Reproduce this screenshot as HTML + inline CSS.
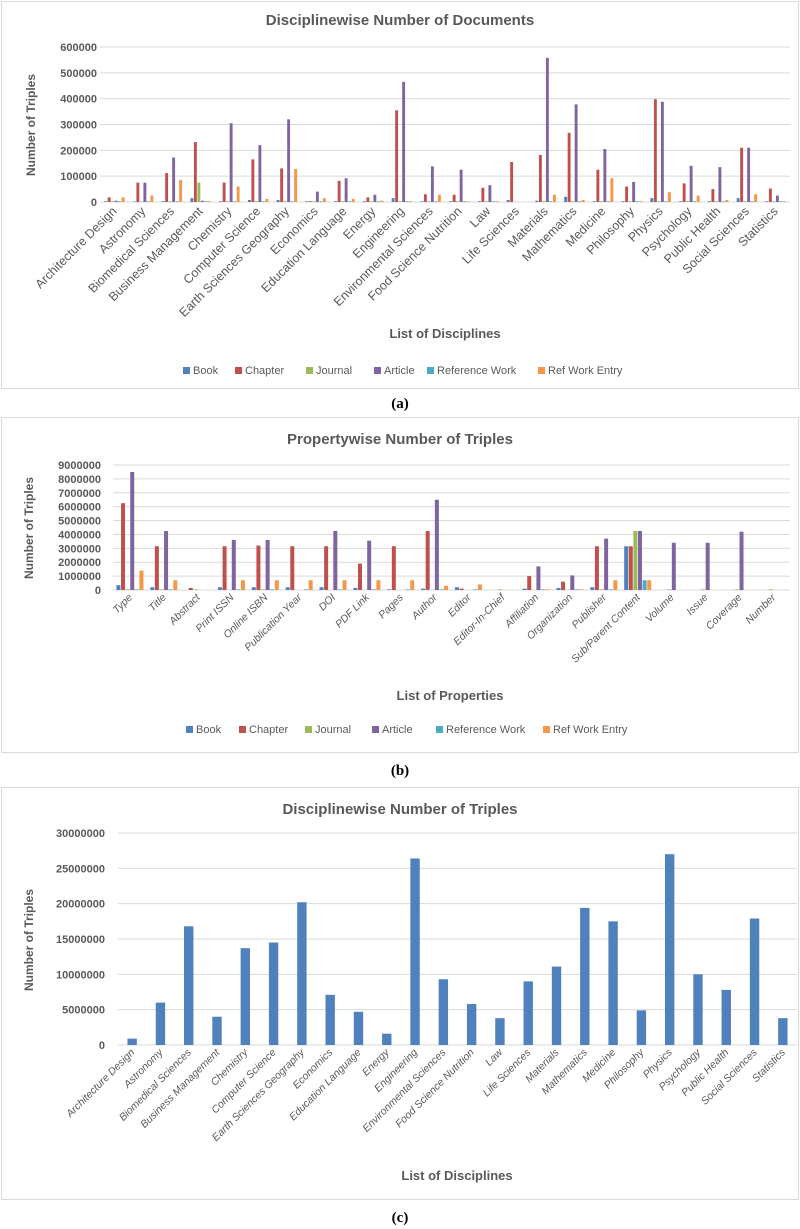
<!DOCTYPE html>
<html><head><meta charset="utf-8"><style>
html,body{margin:0;padding:0;background:#fff;}
svg{display:block;font-family:"Liberation Sans",sans-serif;}
</style></head><body>
<svg id="fig" width="800" height="1229" viewBox="0 0 800 1229" xmlns="http://www.w3.org/2000/svg">
<rect x="1.5" y="1.5" width="797" height="387" fill="#fff" stroke="#d9d9d9"/>
<rect x="1.5" y="417.5" width="797" height="335" fill="#fff" stroke="#d9d9d9"/>
<rect x="1.5" y="787.5" width="797" height="412" fill="#fff" stroke="#d9d9d9"/>
<text x="400" y="25" text-anchor="middle" font-size="15" font-weight="bold" fill="#595959">Disciplinewise Number of Documents</text>
<text x="400" y="444" text-anchor="middle" font-size="15" font-weight="bold" fill="#595959">Propertywise Number of Triples</text>
<text x="400" y="814" text-anchor="middle" font-size="15" font-weight="bold" fill="#595959">Disciplinewise Number of Triples</text>
<text transform="translate(35,125) rotate(-90)" text-anchor="middle" font-size="12" font-weight="bold" fill="#595959">Number of Triples</text>
<text transform="translate(33,528) rotate(-90)" text-anchor="middle" font-size="12" font-weight="bold" fill="#595959">Number of Triples</text>
<text transform="translate(33,940) rotate(-90)" text-anchor="middle" font-size="12" font-weight="bold" fill="#595959">Number of Triples</text>
<text x="445" y="338" text-anchor="middle" font-size="13" font-weight="bold" fill="#595959">List of Disciplines</text>
<text x="450" y="700" text-anchor="middle" font-size="13" font-weight="bold" fill="#595959">List of Properties</text>
<text x="457" y="1180" text-anchor="middle" font-size="13" font-weight="bold" fill="#595959">List of Disciplines</text>
<text x="400" y="408" text-anchor="middle" font-size="15" font-weight="bold" font-family="Liberation Serif,serif" fill="#000">(a)</text>
<text x="400" y="775" text-anchor="middle" font-size="15" font-weight="bold" font-family="Liberation Serif,serif" fill="#000">(b)</text>
<text x="400" y="1222" text-anchor="middle" font-size="15" font-weight="bold" font-family="Liberation Serif,serif" fill="#000">(c)</text>
</svg>
<script>
const disciplines = ["Architecture Design","Astronomy","Biomedical Sciences","Business Management","Chemistry","Computer Science","Earth Sciences Geography","Economics","Education Language","Energy","Engineering","Environmental Sciences","Food Science Nutrition","Law","Life Sciences","Materials","Mathematics","Medicine","Philosophy","Physics","Psychology","Public Health","Social Sciences","Statistics"];
const seriesNames = ["Book","Chapter","Journal","Article","Reference Work","Ref Work Entry"];
const seriesColors = ["#4f81bd","#c0504d","#9bbb59","#8064a2","#4bacc6","#f79646"];
const docBook = [3000,2000,3000,15000,3000,8000,8000,3000,3000,3000,15000,3000,3000,3000,8000,5000,20000,3000,3000,15000,3000,3000,15000,3000];
const docChapter = [18000,75000,112000,232000,75000,165000,130000,3000,82000,18000,355000,30000,28000,55000,155000,182000,268000,125000,60000,398000,72000,50000,210000,52000];
const docJournal = [3000,2000,3000,75000,3000,3000,3000,3000,3000,3000,3000,3000,3000,3000,0,3000,3000,3000,3000,3000,3000,3000,3000,3000];
const docArticle = [5000,75000,172000,5000,305000,220000,320000,40000,92000,28000,465000,138000,125000,65000,0,558000,378000,205000,78000,388000,140000,135000,210000,25000];
const docRefWork = [3000,3000,3000,3000,3000,3000,3000,3000,3000,3000,3000,3000,3000,3000,0,3000,3000,3000,3000,3000,3000,3000,3000,3000];
const docRefEntry = [18000,25000,85000,3000,60000,12000,128000,15000,12000,5000,3000,28000,3000,3000,0,28000,8000,92000,3000,38000,25000,8000,30000,3000];
const docTicks = [0,100000,200000,300000,400000,500000,600000];

const properties = ["Type","Title","Abstract","Print ISSN","Online ISBN","Publication Year","DOI","PDF Link","Pages","Author","Editor","Editor-In-Chief","Affiliation","Organization","Publisher","Sub/Parent Content","Volume","Issue","Coverage","Number"];
const propBook = [350000,200000,0,200000,200000,200000,200000,150000,50000,100000,200000,0,100000,150000,200000,3150000,0,0,0,0];
const propChapter = [6250000,3150000,150000,3150000,3200000,3150000,3150000,1900000,3150000,4250000,100000,0,1000000,600000,3150000,3150000,0,0,0,0];
const propJournal = [50000,50000,50000,0,50000,0,0,0,0,0,0,50000,0,0,50000,4250000,50000,50000,50000,50000];
const propArticle = [8500000,4250000,0,3600000,3600000,0,4250000,3550000,0,6500000,0,0,1700000,1050000,3700000,4250000,3400000,3400000,4200000,0];
const propRefWork = [50000,50000,0,50000,50000,50000,50000,50000,50000,50000,50000,0,50000,50000,50000,700000,0,0,0,0];
const propRefEntry = [1400000,700000,0,700000,700000,700000,700000,700000,700000,300000,400000,0,50000,50000,700000,700000,0,0,0,0];
const propTicks = [0,1000000,2000000,3000000,4000000,5000000,6000000,7000000,8000000,9000000];

const triples = [900000,6000000,16800000,4000000,13700000,14500000,20200000,7100000,4700000,1600000,26400000,9300000,5800000,3800000,9000000,11100000,19400000,17500000,4900000,27000000,10000000,7800000,17900000,3800000];
const tripleTicks = [0,5000000,10000000,15000000,20000000,25000000,30000000];

const NS = "http://www.w3.org/2000/svg";
const svg = document.getElementById("fig");
function mk(tag, attrs){ const e=document.createElementNS(NS,tag); for(const k in attrs) e.setAttribute(k,attrs[k]); svg.appendChild(e); return e; }

function drawChart(id, cfg){
  const n = cfg.cats.length, max = cfg.ticks[cfg.ticks.length-1];
  const step = (cfg.x1-cfg.x0)/n;
  const xC = i => cfg.x0 + step*(i+0.5);
  const yS = v => cfg.y0 - (v/max)*(cfg.y0-cfg.yTop);
  cfg.ticks.forEach(t=>{
    const g = mk("line",{x1:cfg.x0,x2:cfg.x1,y1:yS(t),y2:yS(t),stroke:"#d9d9d9","stroke-width":1});
    
    
    const l = mk("text",{x:cfg.labX,y:yS(t)+4,"text-anchor":"end","font-size":cfg.tickFont,"font-weight":"bold",fill:"#595959"});
    l.textContent = t;
    
    
  });
  const ns = cfg.series.length;
  const bw = cfg.barW;
  cfg.series.forEach((arr,s)=>{
    arr.forEach((v,i)=>{
      const x = xC(i) - bw*ns/2 + bw*s;
      const y = yS(v);
      const r = mk("rect",{x:x+0.3,y:y,width:Math.max(bw-0.6,1),height:Math.max(cfg.y0-y,0),fill:cfg.colors[s]});
      
      
    });
  });
  cfg.cats.forEach((c,i)=>{
    const x = xC(i)+3, y = cfg.y0+cfg.labDy;
    const t = mk("text",{x:x,y:y,"text-anchor":"end","font-size":cfg.catFont,fill:"#595959","font-style":cfg.italic?"italic":"normal",transform:`rotate(-45 ${x} ${y})`});
    t.textContent = c;
    
    
  });
}
function drawLegend(id, y, xs){
  seriesNames.forEach((nm,i)=>{
    const r = mk("rect",{x:xs[i],y:y-7,width:7,height:7,fill:seriesColors[i]});
    
    
    const t = mk("text",{x:xs[i]+10,y:y,"font-size":11,fill:"#595959"});
    t.textContent = nm;
    
    
  });
}
drawChart("chart-a",{cats:disciplines,series:[docBook,docChapter,docJournal,docArticle,docRefWork,docRefEntry],colors:seriesColors,ticks:docTicks,x0:100,x1:790,y0:202,yTop:47,labX:97,barW:3.5,catFont:12.5,tickFont:11,labDy:10,italic:false});
drawLegend("chart-a",374,[183,235,306,374,427,538]);
drawChart("chart-b",{cats:properties,series:[propBook,propChapter,propJournal,propArticle,propRefWork,propRefEntry],colors:seriesColors,ticks:propTicks,x0:113,x1:790,y0:590,yTop:465,labX:101,barW:4.6,catFont:10.5,tickFont:11,labDy:8,italic:true});
drawLegend("chart-b",733,[186,239,305,372,436,543]);
drawChart("chart-c",{cats:disciplines,series:[triples],colors:["#4f81bd"],ticks:tripleTicks,x0:118,x1:797,y0:1045,yTop:833,labX:105,barW:10,catFont:10.5,tickFont:11,labDy:8,italic:true});
</script>
</body></html>
